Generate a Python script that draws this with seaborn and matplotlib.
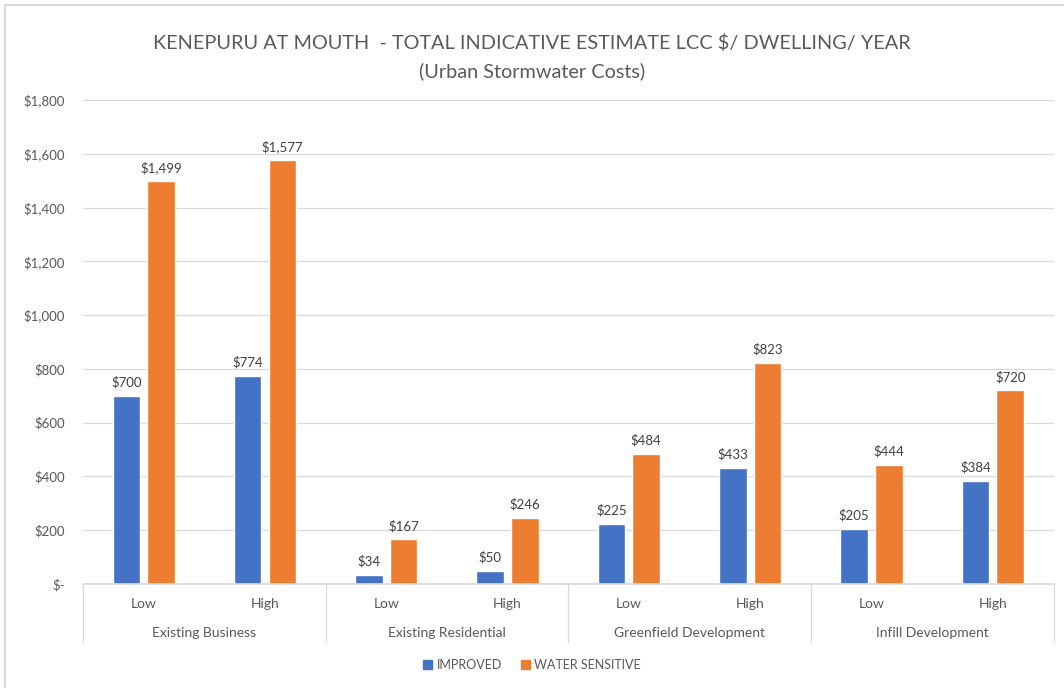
import matplotlib
matplotlib.use("Agg")
import matplotlib.pyplot as plt
import matplotlib.transforms as mtransforms
from matplotlib.lines import Line2D
import seaborn as sns
import pandas as pd

groups = ["Existing Business", "Existing Residential", "Greenfield Development", "Infill Development"]
levels = ["Low", "High"]
series = ["IMPROVED", "WATER SENSITIVE"]
improved = [700, 774, 34, 50, 225, 433, 205, 384]
water_sensitive = [1499, 1577, 167, 246, 484, 823, 444, 720]
yticks = [0, 200, 400, 600, 800, 1000, 1200, 1400, 1600, 1800]

colors = ["#4472C4", "#ED7D31"]
text_color = "#595959"

sns.set_theme(style="white")
plt.rcParams["font.family"] = ["Lato", "DejaVu Sans"]

slots = [f"{g}|{l}" for g in groups for l in levels]
df = pd.DataFrame({
    "slot": slots * 2,
    "series": [series[0]] * len(slots) + [series[1]] * len(slots),
    "value": improved + water_sensitive,
})

W, H = 1064, 688
fig = plt.figure(figsize=(W / 100, H / 100), dpi=100)
ax = fig.add_axes([83 / W, 1 - 584 / H, (1053.5 - 83) / W, (584 - 100) / H])

sns.barplot(data=df, x="slot", y="value", hue="series", order=slots,
            hue_order=series, palette=colors, width=0.572, gap=0.206,
            saturation=1, ax=ax, legend=False, errorbar=None)

ax.set_ylim(0, 1800)
ax.set_xlim(-0.5, len(slots) - 0.5)
ax.set_yticks(yticks)
ax.set_yticklabels(["$-" if v == 0 else f"${v:,}" for v in yticks],
                   color=text_color, fontsize=9.5)
ax.yaxis.grid(True, color="#D9D9D9", linewidth=0.9)
ax.set_axisbelow(True)
for s in ["top", "right", "left"]:
    ax.spines[s].set_visible(False)
ax.spines["bottom"].set_color("#D9D9D9")
ax.tick_params(axis="y", length=0, pad=13)
ax.set_xticks([])
ax.set_xlabel("")
ax.set_ylabel("")

# data labels
for cont in ax.containers:
    ax.bar_label(cont, labels=[f"${v.get_height():,.0f}" for v in cont],
                 padding=5, fontsize=9.5, color="#404040")

# multi-level category axis
trans = mtransforms.blended_transform_factory(ax.transData, ax.transAxes)
box_h = (642 - 584) / (584 - 100)
for x in [-0.5, 1.5, 3.5, 5.5, 7.5]:
    ax.add_line(Line2D([x, x], [0, -box_h], transform=trans, color="#D9D9D9",
                       linewidth=0.9, clip_on=False))
low_y = -(604 - 584) / (584 - 100)
grp_y = -(633 - 584) / (584 - 100)
for i, s in enumerate(slots):
    ax.text(i, low_y, s.split("|")[1], transform=trans, ha="center", va="center",
            fontsize=10, color=text_color)
for j, g in enumerate(groups):
    ax.text(2 * j + 0.5, grp_y, g, transform=trans, ha="center", va="center",
            fontsize=10, color=text_color)

# title
fig.text(0.5, 1 - 43 / H, "KENEPURU AT MOUTH  - TOTAL INDICATIVE ESTIMATE LCC $/ DWELLING/ YEAR",
         ha="center", va="center", fontsize=14.3, color=text_color)
fig.text(0.5, 1 - 71 / H, "(Urban Stormwater Costs)", ha="center", va="center",
         fontsize=14.3, color=text_color)

# legend
handles = [plt.Rectangle((0, 0), 1, 1, color=c) for c in colors]
fig.legend(handles, series, loc="center", bbox_to_anchor=(0.5, 1 - 665 / H),
           ncol=2, frameon=False, fontsize=9, handlelength=0.7, handleheight=0.7,
           columnspacing=1.5, handletextpad=0.4, labelcolor=text_color)

# outer border fragments
fig.add_artist(Line2D([5 / W, 5 / W], [0, 1 - 5 / H], transform=fig.transFigure,
                      color="#D9D9D9", linewidth=1.5))
fig.add_artist(Line2D([5 / W, 1], [1 - 5 / H, 1 - 5 / H], transform=fig.transFigure,
                      color="#D9D9D9", linewidth=1.5))

fig.savefig("out.png", dpi=100)
